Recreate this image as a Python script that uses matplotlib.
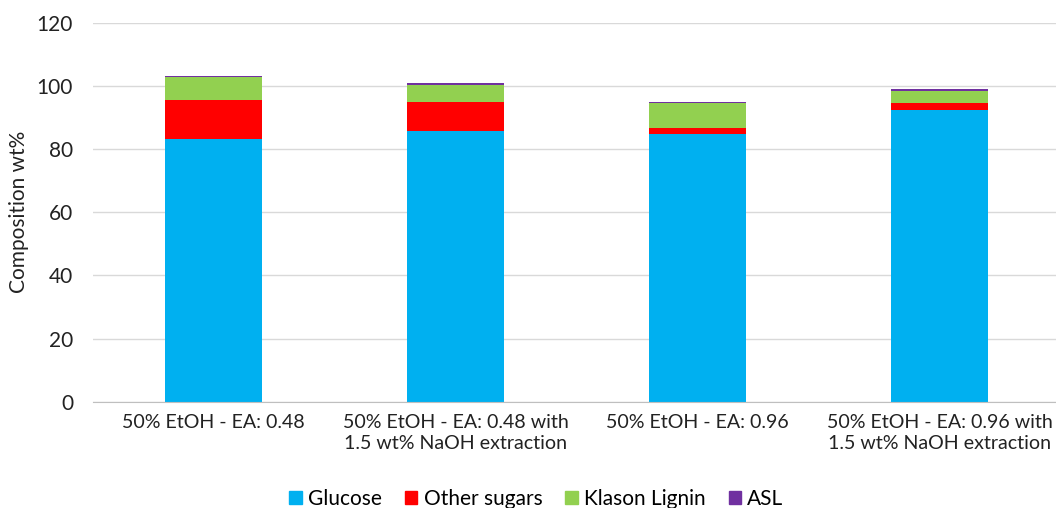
import numpy as np
import matplotlib.pyplot as plt
from matplotlib.patches import Patch

plt.rcParams['font.family'] = ['Lato', 'DejaVu Sans']

# Composition of the pretreated solids (wt%)
samples = ['50% EtOH - EA: 0.48',
           '50% EtOH - EA: 0.48 with\n1.5 wt% NaOH extraction',
           '50% EtOH - EA: 0.96',
           '50% EtOH - EA: 0.96 with\n1.5 wt% NaOH extraction']
glucose = [83.2, 85.7, 84.8, 92.5]
other_sugars = [12.4, 9.3, 2.0, 2.2]
klason_lignin = [7.1, 5.3, 7.9, 3.6]
asl = [0.3, 0.7, 0.3, 0.6]

series = [('Glucose', glucose, '#00B0F0'),
          ('Other sugars', other_sugars, '#FF0000'),
          ('Klason Lignin', klason_lignin, '#92D050'),
          ('ASL', asl, '#7030A0')]

fig = plt.figure(figsize=(10.56, 5.08), dpi=100)
ax = fig.add_axes([0.0876, 0.2093, 0.9124, 0.746])

x = np.arange(len(samples))
bottom = np.zeros(len(samples))
for name, vals, color in series:
    ax.bar(x, vals, width=0.4, bottom=bottom, color=color, label=name, zorder=3)
    bottom += np.array(vals)

fs = 15
ax.set_ylim(0, 120)
ax.set_yticks(range(0, 121, 20))
ax.set_xlim(-0.5, 3.481)
ax.set_xticks(x)
ax.set_xticklabels(samples, fontsize=14.1, color='#222222', linespacing=1.3)
ax.tick_params(axis='y', labelsize=fs, colors='#222222', length=0, pad=14)
ax.tick_params(axis='x', length=0, pad=9)
ax.yaxis.grid(True, color='#d9d9d9', linewidth=1, zorder=0)
for side in ['top', 'right', 'left']:
    ax.spines[side].set_visible(False)
ax.spines['bottom'].set_color('#bfbfbf')
ax.spines['bottom'].set_zorder(4)
ax.set_ylabel('Composition wt%', fontsize=fs, color='#222222')
ax.yaxis.set_label_coords(-0.066, 0.5)

handles = [Patch(color=c, label=n) for n, _, c in series]
fig.legend(handles=handles, loc='center', bbox_to_anchor=(0.508, 0.018),
           ncol=4, frameon=False, fontsize=fs, handlelength=0.6,
           handleheight=0.6, handletextpad=0.3, columnspacing=1.1)

fig.savefig('out.png', dpi=100)
